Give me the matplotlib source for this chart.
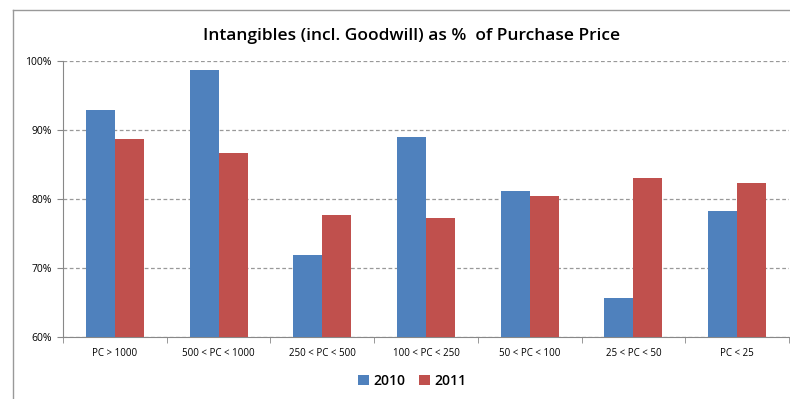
import numpy as np
import matplotlib
matplotlib.use("Agg")
import matplotlib.pyplot as plt
from matplotlib.lines import Line2D
from matplotlib.ticker import PercentFormatter

categories = ["PC > 1000", "500 < PC < 1000", "250 < PC < 500", "100 < PC < 250",
              "50 < PC < 100", "25 < PC < 50", "PC < 25"]
values_2010 = [92.9, 98.7, 71.9, 89.0, 81.2, 65.7, 78.2]
values_2011 = [88.7, 86.6, 77.7, 77.3, 80.5, 83.0, 82.3]

blue = "#4f81bd"
red = "#c0504d"
grey = "#888888"

plt.rcParams["font.family"] = ["Open Sans", "DejaVu Sans"]

fig = plt.figure(figsize=(7.9, 3.99), dpi=100)
ax = fig.add_axes([63 / 790, 1 - 337 / 399, 726 / 790, 276 / 399])

x = np.arange(len(categories))
w = 0.28
ax.bar(x - w / 2, values_2010, w, color=blue, label="2010", zorder=3)
ax.bar(x + w / 2, values_2011, w, color=red, label="2011", zorder=3)

ax.set_xlim(-0.5, len(categories) - 0.5)
ax.set_ylim(60, 100)
ax.set_yticks([60, 70, 80, 90, 100])
ax.yaxis.set_major_formatter(PercentFormatter(decimals=0))
ax.set_xticks(x)
ax.set_xticklabels(categories, fontsize=7)
ax.tick_params(axis="x", length=0, pad=8)
ax.set_xticks(np.arange(len(categories) + 1) - 0.5, minor=True)
ax.tick_params(axis="x", which="minor", length=4, color=grey)
ax.tick_params(axis="y", labelsize=7.5, length=4, color=grey, pad=4)

ax.grid(axis="y", linestyle=(0, (3, 2)), color="#999999", linewidth=0.9, zorder=0)
for s in ["top", "right"]:
    ax.spines[s].set_visible(False)
ax.spines["left"].set_color(grey)
ax.spines["bottom"].set_color(grey)

fig.text(412 / 790, 1 - 36 / 399, "Intangibles (incl. Goodwill) as %  of Purchase Price",
         ha="center", va="center", fontsize=12.5, fontweight="semibold")

fig.legend(loc="center", bbox_to_anchor=(412 / 790, 1 - 381 / 399), ncol=2, frameon=False,
           handlelength=0.8, handleheight=0.8, handletextpad=0.3, columnspacing=1.0,
           prop={"size": 10, "weight": "semibold"})

# chart frame
fig.add_artist(Line2D([13 / 790, 13 / 790], [0, 1 - 10 / 399], color="#999999", lw=1))
fig.add_artist(Line2D([13 / 790, 1], [1 - 10 / 399, 1 - 10 / 399], color="#999999", lw=1))

fig.savefig("out.png", dpi=100)
